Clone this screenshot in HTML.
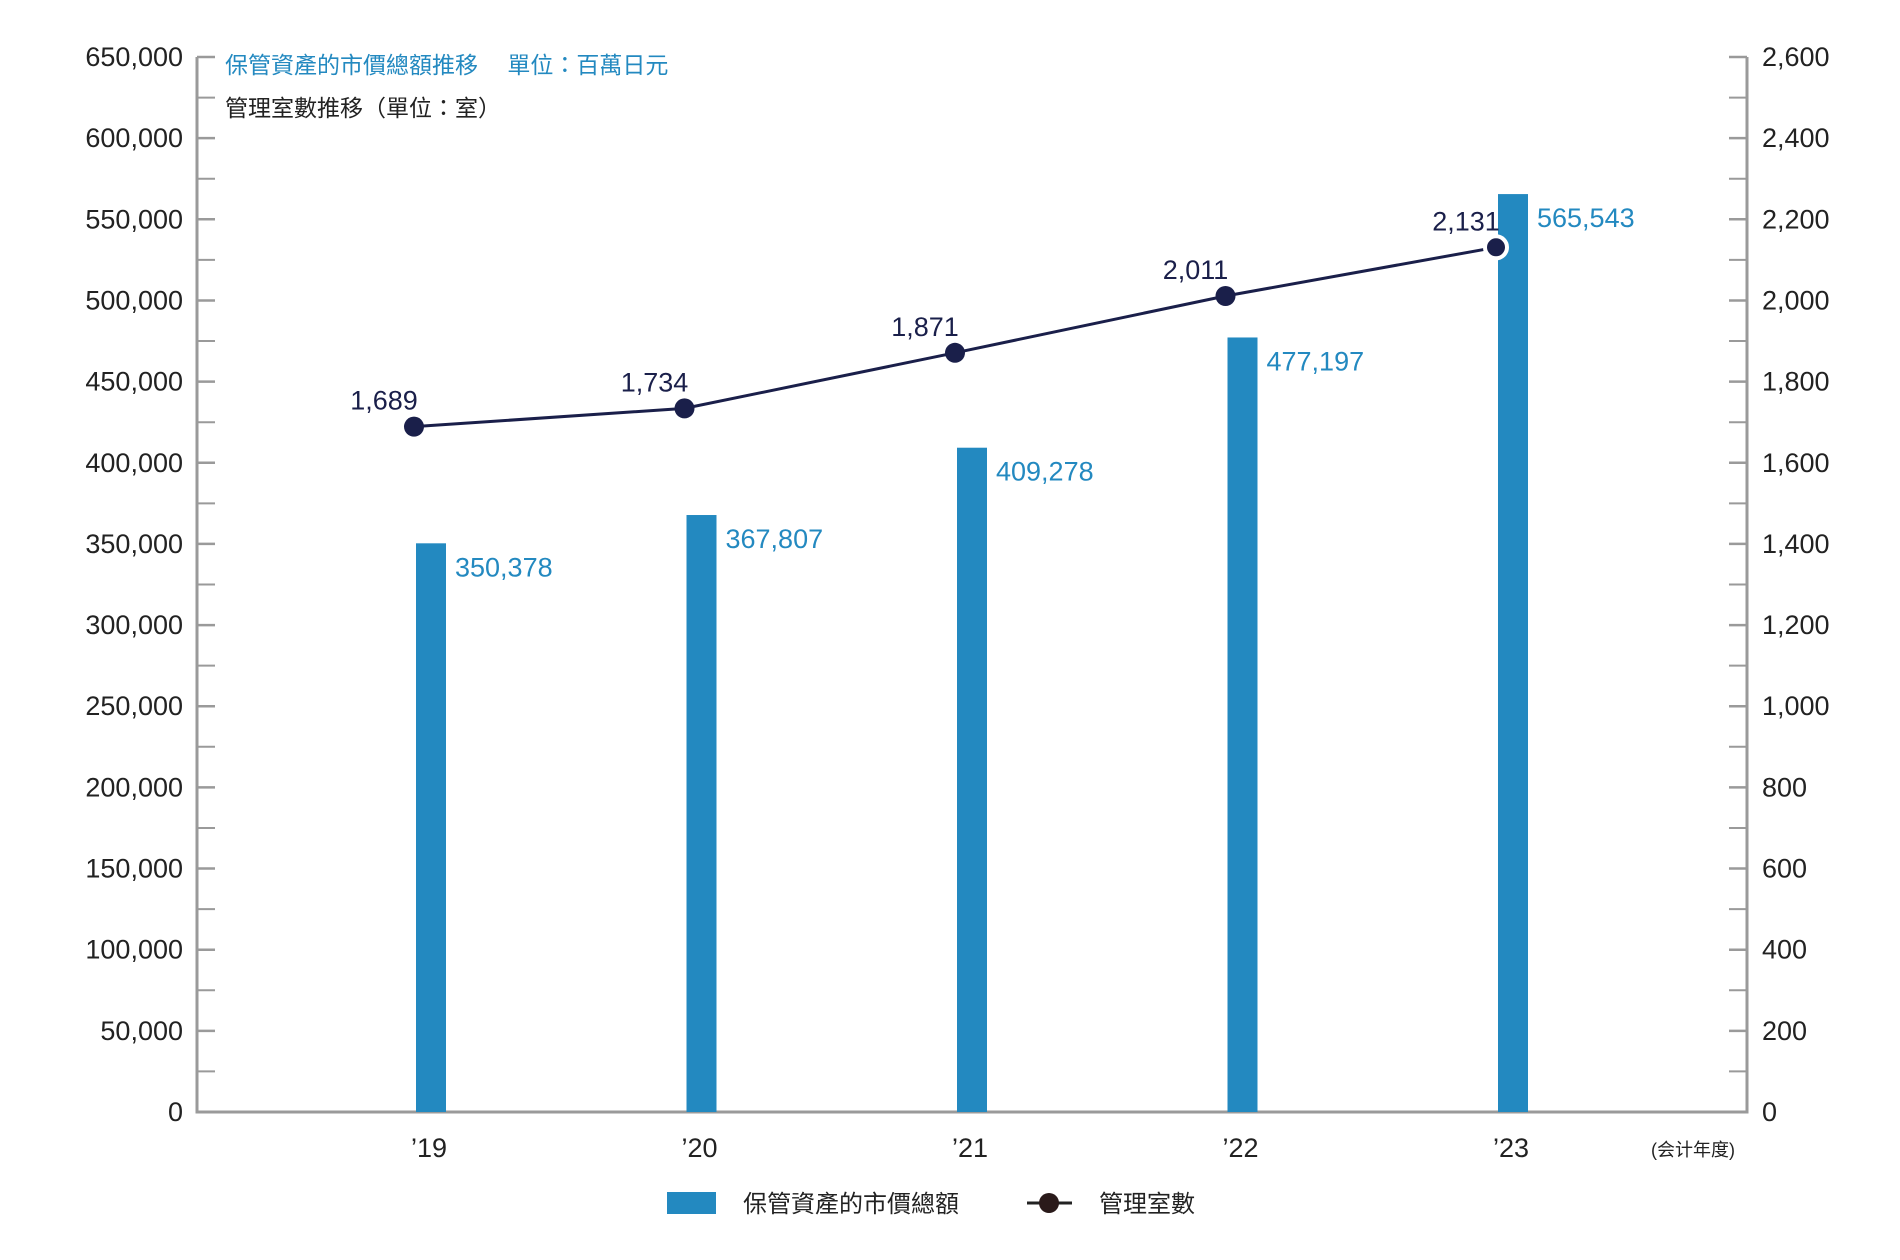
<!DOCTYPE html>
<html><head><meta charset="utf-8">
<style>
html,body{margin:0;padding:0;background:#fff;}
svg{display:block;font-family:"Liberation Sans","Noto Sans CJK TC",sans-serif;}
</style></head>
<body>
<svg id="chart" width="1900" height="1260" viewBox="0 0 1900 1260">
<g id="axes"></g>
<g id="bars"></g>
<g id="line"></g>
<text x="225" y="73" font-size="23" fill="#2389c0">保管資產的市價總額推移　 單位：百萬日元</text>
<text x="225" y="116" font-size="23" fill="#222">管理室數推移（單位：室）</text>
<text x="1693" y="1156" font-size="18" fill="#222" text-anchor="middle">(会计年度)</text>
<g>
<rect x="667" y="1192" width="49" height="22" fill="#2389c0"/>
<text x="743" y="1212" font-size="24" fill="#222">保管資產的市價總額</text>
<line x1="1027" y1="1203" x2="1072" y2="1203" stroke="#222" stroke-width="3"/>
<circle cx="1049" cy="1203" r="10" fill="#2a1a1a"/>
<text x="1099" y="1212" font-size="24" fill="#222">管理室數</text>
</g>
</svg>
<script>
const categories = ["’19","’20","’21","’22","’23"];
const assetValues = [350378, 367807, 409278, 477197, 565543];
const roomValues = [1689, 1734, 1871, 2011, 2131];
const leftTicks = [0,50000,100000,150000,200000,250000,300000,350000,400000,450000,500000,550000,600000,650000];
const rightTicks = [0,200,400,600,800,1000,1200,1400,1600,1800,2000,2200,2400,2600];

const NS = "http://www.w3.org/2000/svg";
const X0 = 197, X1 = 1747, Y0 = 1112, YT = 57;
const yL = v => Y0 - v / 650000 * (Y0 - YT);
const yR = v => Y0 - v / 2600 * (Y0 - YT);
const xC = i => 431 + i * 270.5;
const fmt = v => v.toLocaleString("en-US");
function mk(tag, attrs, parent){
  const e = document.createElementNS(NS, tag);
  for (const k in attrs) e.setAttribute(k, attrs[k]);
  parent.appendChild(e);
  return e;
}
const axes = document.getElementById("axes");
const bars = document.getElementById("bars");
const lineG = document.getElementById("line");

let a = mk("path", {d:`M${X0} ${YT} V${Y0} H${X1} V${YT}`, fill:"none", stroke:"#9a9a9a", "stroke-width":3}, axes);



leftTicks.forEach((v, i) => {
  const y = yL(v);
  let t = mk("line", {x1:X0, x2:X0+18, y1:y, y2:y, stroke:"#9a9a9a", "stroke-width":2.5}, axes);
  
  
  if (i < leftTicks.length - 1) {
    const ym = yL(v + 25000);
    let m = mk("line", {x1:X0, x2:X0+18, y1:ym, y2:ym, stroke:"#9a9a9a", "stroke-width":2}, axes);
    
    
  }
  let l = mk("text", {x:183, y:y+9, "font-size":27, fill:"#222", "text-anchor":"end"}, axes);
  l.textContent = fmt(v);
  
  
});
rightTicks.forEach((v, i) => {
  const y = yR(v);
  let t = mk("line", {x1:X1-18, x2:X1, y1:y, y2:y, stroke:"#9a9a9a", "stroke-width":2.5}, axes);
  
  
  if (i < rightTicks.length - 1) {
    const ym = yR(v + 100);
    let m = mk("line", {x1:X1-18, x2:X1, y1:ym, y2:ym, stroke:"#9a9a9a", "stroke-width":2}, axes);
    
    
  }
  let l = mk("text", {x:1762, y:y+9, "font-size":27, fill:"#222"}, axes);
  l.textContent = fmt(v);
  
  
});
categories.forEach((c, i) => {
  let l = mk("text", {x:xC(i)-2, y:1157, "font-size":27, fill:"#222", "text-anchor":"middle"}, axes);
  l.textContent = c;
  
  
});
assetValues.forEach((v, i) => {
  const y = yL(v);
  let r = mk("rect", {x:xC(i)-15, y:y, width:30, height:Y0-y, fill:"#2389c0"}, bars);
  
  
  let l = mk("text", {x:xC(i)+24, y:y+33, "font-size":27, fill:"#2389c0"}, bars);
  l.textContent = fmt(v);
  
  
});
const pts = roomValues.map((v, i) => [xC(i)-17, yR(v)]);
let pl = mk("polyline", {points: pts.map(p => p.join(",")).join(" "), fill:"none", stroke:"#1a1f4a", "stroke-width":3}, lineG);


pts.forEach((p, i) => {
  const last = i === pts.length - 1;
  let c = mk("circle", {cx:p[0], cy:p[1], r: last ? 11 : 10, fill:"#1a1f4a", stroke:"#fff", "stroke-width": last ? 4 : 0}, lineG);
  
  
  let l = mk("text", {x:p[0]-30, y:p[1]-17, "font-size":27, fill:"#1a1f4a", "text-anchor":"middle"}, lineG);
  l.textContent = fmt(roomValues[i]);
  
  
});
</script>
</body></html>
